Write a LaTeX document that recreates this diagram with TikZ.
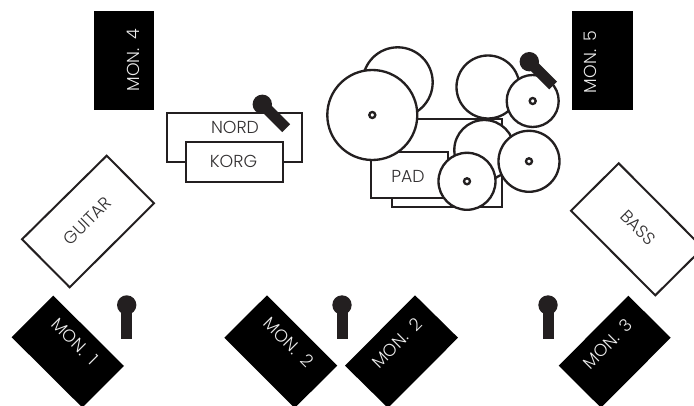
\documentclass[tikz,border=0pt]{standalone}
\usepackage{fontspec}
\setmainfont{Poppins Light}
\definecolor{ink}{HTML}{231F20}
\definecolor{lbl}{HTML}{333132}
\newcommand{\monsp}{\hspace{3pt}}
\tikzset{
  x=0.75pt,y=-0.75pt,
  outl/.style={draw=ink,line width=1.75pt,fill=white,line join=miter},
  thin outl/.style={draw=ink,line width=1.5pt,fill=white},
  hub/.style={draw=ink,line width=1.75pt,fill=white},
  lab/.style={font=\fontsize{13pt}{15pt}\selectfont,text=lbl,inner sep=0pt},
  wlab/.style={font=\fontsize{13pt}{15pt}\selectfont,text=white!92!black,inner sep=0pt},
}
\newcommand{\micstem}[3]{%
  \fill[ink] (#1,#2) circle[radius=9.7];
  \fill[ink,rotate around={#3:(#1,#2)}] (#1-5.5,#2) rectangle (#1+5.5,#2+33.7);
}
\begin{document}
\begin{tikzpicture}
\useasboundingbox (0,0) rectangle (694,406);
\clip (0,0) rectangle (694,406);
% monitors
\fill[black] (94,11) rectangle (154,110);
\fill[black] (572,11) rectangle (632.7,110);
\fill[black] (53.3,295.7) -- (124,366) -- (82.4,407.6) -- (11.7,337.3) -- cycle;
\fill[black] (267,295.3) -- (337.3,365.7) -- (294.6,408) -- (224.3,337.7) -- cycle;
\fill[black] (415,295.3) -- (458,337.7) -- (388,408) -- (345,365.7) -- cycle;
\fill[black] (628.3,295.7) -- (670.7,337.7) -- (601,407.7) -- (558.7,365.7) -- cycle;
\node[wlab,rotate=90] (m4) at (133,60) {MON. \monsp 4};
\node[wlab,rotate=90] (m5) at (590.5,61.7) {MON. \monsp 5};
\node[wlab,rotate=-45] (m1) at (75,341.5) {MON. \monsp 1};
\node[wlab,rotate=-45] (m2a) at (288.7,342.3) {MON. \monsp 2};
\node[wlab,rotate=45] (m2b) at (397,343) {MON. \monsp 2};
\node[wlab,rotate=45] (m3) at (607.6,343.7) {MON. \monsp 3};
% guitar, bass
\draw[thin outl] (106.7,155.7) -- (154,203.3) -- (69.7,287.3) -- (22,239.3) -- cycle;
\draw[thin outl] (618.7,163.3) -- (703,248) -- (655.3,295.3) -- (571,210.7) -- cycle;
\node[lab,rotate=45] (gtr) at (87.3,220.7) {GUITAR};
\node[lab,rotate=-45] (bass) at (638,227.5) {BASS};
% keys
\draw[outl] (167.3,113.3) rectangle (301.7,161.7);
\node[lab] (nord) at (235,127.7) {NORD};
\draw[outl] (185.7,142.3) rectangle (283.3,181.7);
\node[lab] (korg) at (233.5,161.7) {KORG};
\micstem{262.3}{104.3}{45}
% drums
\draw[outl] (397.7,82.3) circle[radius=35];
\draw[outl] (391.7,119.3) rectangle (501.7,206.7);
\draw[outl] (484.3,150) circle[radius=30];
\draw[outl] (370.7,151.7) rectangle (448.3,198.3);
\node[lab] (pad) at (408,176.5) {PAD};
\draw[outl] (372.3,115) circle[radius=45];
\draw[hub] (372.3,115) circle[radius=3];
\draw[outl] (488,87) circle[radius=31.5];
\draw[outl] (532.7,101) circle[radius=26];
\draw[hub] (532.7,101) circle[radius=3];
\micstem{529.3}{61.7}{45}
\draw[outl] (529,161.3) circle[radius=30.5];
\draw[hub] (529,161.3) circle[radius=3];
\draw[outl] (467,181.3) circle[radius=28.5];
\draw[hub] (467,181.3) circle[radius=3];
% mics
\micstem{126.7}{305}{0}
\micstem{342}{305}{0}
\micstem{548}{305}{0}
\end{tikzpicture}
\end{document}
